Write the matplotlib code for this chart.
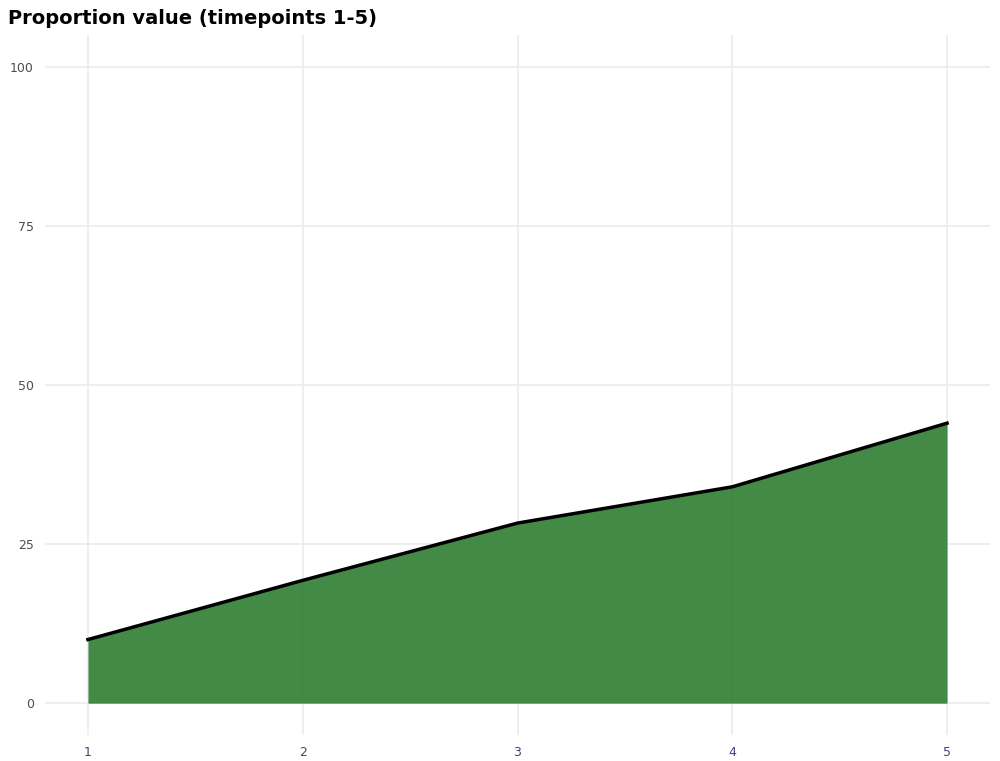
import matplotlib
matplotlib.use("Agg")
import matplotlib.pyplot as plt

timepoints = [1, 2, 3, 4, 5]
proportion = [10, 19.3, 28.3, 34, 44]
y_ticks = [0, 25, 50, 75, 100]

fig = plt.figure(figsize=(10, 7.61), dpi=100)
ax = fig.add_axes([0.045, 1 - 735 / 761, 0.945, 700 / 761])

ax.fill_between(timepoints, proportion, 0, color="#2e7d32", alpha=0.9, linewidth=0, zorder=2)
ax.plot(timepoints, proportion, color="black", linewidth=2.5, zorder=3)

ax.set_xlim(0.8, 5.2)
ax.set_ylim(-5, 105)
ax.set_xticks(timepoints)
ax.set_yticks(y_ticks)
ax.grid(True, color="#ebebeb", linewidth=1.2, zorder=0)
for s in ax.spines.values():
    s.set_visible(False)
ax.tick_params(length=0, pad=8)
for lab in ax.get_xticklabels():
    lab.set_color("#4d3d7a")
    lab.set_fontsize(9)
for lab in ax.get_yticklabels():
    lab.set_color("#4d4d4d")
    lab.set_fontsize(9)

fig.text(0.008, 1 - 18 / 761, "Proportion value (timepoints 1-5)", fontsize=14,
         fontweight="bold", va="center", ha="left")

fig.savefig("out.png", dpi=100)
